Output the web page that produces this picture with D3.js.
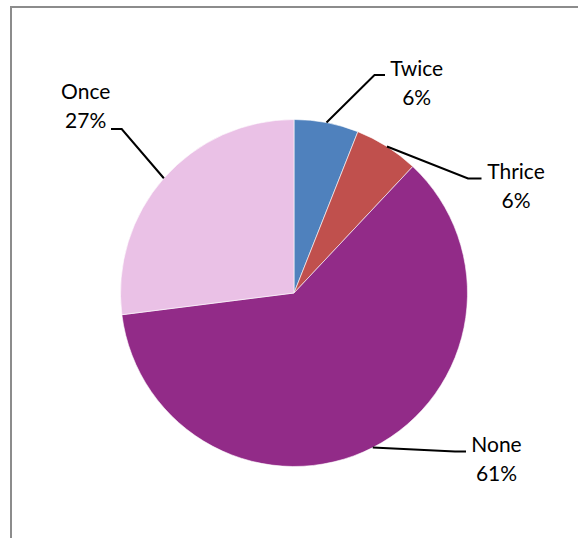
<!DOCTYPE html>
<html>
<head>
<meta charset="utf-8">
<script src="https://cdn.jsdelivr.net/npm/d3@7"></script>
<style>
  html, body { margin: 0; padding: 0; background: #ffffff; }
  svg { display: block; }
  text { font-family: Lato, "Open Sans", sans-serif; fill: #000; }
</style>
</head>
<body>
<svg id="chart" width="578" height="538"></svg>
<script>
// How often: share of respondents (%)
const categories = ["Twice", "Thrice", "None", "Once"];
const values = [6, 6, 61, 27];
const colors = ["#4F81BD", "#C0504D", "#922B88", "#EAC1E6"];

const svg = d3.select("#chart");

// chart-area frame (extends past the right and bottom edges)
svg.append("rect")
  .attr("x", 11).attr("y", 7)
  .attr("width", 600).attr("height", 600)
  .attr("fill", "none")
  .attr("stroke", "#8c8c8c")
  .attr("stroke-width", 2);

const cx = 294, cy = 293, r = 173.5;
const g = svg.append("g").attr("transform", `translate(${cx},${cy})`);

const pie = d3.pie().sort(null).value(d => d.value);
const arcs = pie(categories.map((c, i) => ({ name: c, value: values[i], color: colors[i] })));

const arc = d3.arc().innerRadius(0).outerRadius(r);
const edge = d3.arc().innerRadius(r).outerRadius(r);

g.selectAll("path.slice")
  .data(arcs)
  .join("path")
  .attr("class", "slice")
  .attr("d", arc)
  .attr("fill", d => d.data.color)
  .attr("stroke", "#ffffff")
  .attr("stroke-width", 0.6);

// label placement per slice: elbow point, leader end and text centre, relative to the pie centre
const labelLayout = {
  Twice:  { elbow: [80.5, -218], end: [91, -218],  text: [122.7, -217] },
  Thrice: { elbow: [174, -114.5], end: [187.5, -114.5], text: [222, -114] },
  None:   { elbow: [161, 158.5], end: [172, 158.5], text: [202.5, 159.3] },
  Once:   { elbow: [-172.3, -164], end: [-183, -164], text: [-208.3, -194.5] }
};

const leaders = g.append("g");
arcs.forEach(d => {
  const L = labelLayout[d.data.name];
  const p0 = edge.centroid(d);
  leaders.append("path")
    .attr("d", d3.line()([p0, L.elbow, L.end]))
    .attr("fill", "none")
    .attr("stroke", "#000")
    .attr("stroke-width", 2);

  const t = g.append("text")
    .attr("text-anchor", "middle")
    .attr("font-size", 21);
  t.append("tspan")
    .attr("x", L.text[0]).attr("y", L.text[1])
    .text(d.data.name);
  t.append("tspan")
    .attr("x", L.text[0]).attr("y", L.text[1] + 29)
    .text(d3.format(".0f")(d.data.value) + "%");
});
</script>
</body>
</html>
